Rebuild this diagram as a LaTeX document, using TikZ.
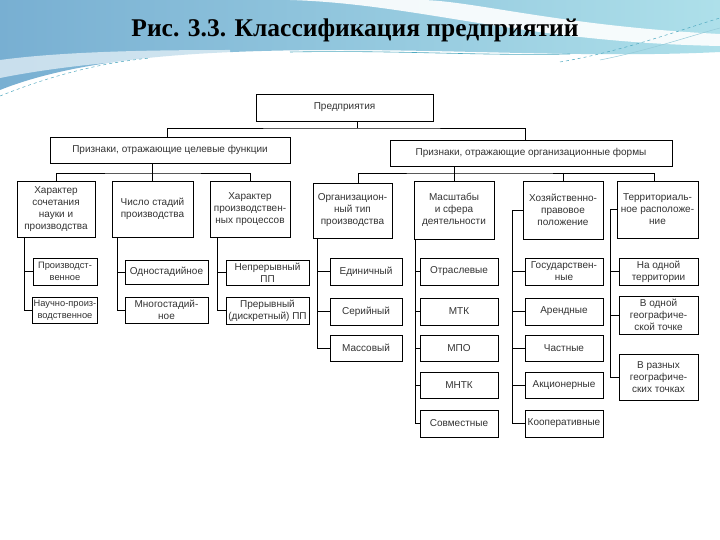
\documentclass[tikz,border=0pt]{standalone}
\usepackage{fontspec}
\setmainfont{Liberation Sans}
\newfontfamily\titlefont{Liberation Serif}
\definecolor{bgL}{HTML}{78AFD2}
\definecolor{bgM}{HTML}{95CDE0}
\definecolor{bgR}{HTML}{AEE0EA}
\definecolor{streak}{HTML}{4FA9C0}
\tikzset{
  box/.style={draw=black, line width=0.7pt, fill=white, align=center,
    font=\fontsize{10}{12}\selectfont, text=black!80, inner sep=1pt},
  smallbox/.style={box, font=\fontsize{9.3}{11.5}\selectfont},
  conn/.style={draw=black, line width=0.7pt}
}
\begin{document}
\begin{tikzpicture}[x=1pt,y=-1pt]
\useasboundingbox (0,0) rectangle (720,540);
\fill[white] (0,0) rectangle (720,540);
% header decoration
\shade[left color=bgL, right color=bgR]
  (0,0) -- (720,0) -- (720,52) .. controls (600,58) and (470,50) .. (340,50)
  .. controls (200,50) and (80,58) .. (0,90) -- cycle;
\fill[white, opacity=0.9]
  (290,0) .. controls (420,4) and (520,42) .. (720,46) -- (720,34)
  .. controls (560,26) and (470,0) .. (420,0) -- cycle;
\fill[white, opacity=0.6]
  (0,60) .. controls (60,52) and (140,50) .. (230,50) -- (230,56)
  .. controls (140,58) and (60,66) .. (0,78) -- cycle;
\draw[streak, line width=0.6pt] (290,52) .. controls (400,50) and (480,56) .. (570,54);
\draw[streak, line width=0.5pt, dashed] (0,96) .. controls (40,80) and (90,64) .. (150,58);
\draw[streak, line width=0.5pt, dashed] (560,62) .. controls (620,52) and (680,30) .. (720,18);
\draw[streak!60, line width=0.5pt] (600,60) .. controls (650,50) and (690,36) .. (720,28);
\node[font=\titlefont\bfseries\fontsize{25.5}{28}\selectfont, text=black] (title) at (355,30) {Рис. 3.3. Классификация предприятий};

% level 1, 2
\node[box, minimum width=177pt, minimum height=27pt] (top) at (344.5,107.5) {Предприятия};
\node[box, minimum width=240pt, minimum height=26pt] (L) at (170,150) {Признаки, отражающие целевые функции};
\node[box, minimum width=282pt, minimum height=26pt] (R) at (531,153) {Признаки, отражающие организационные формы};

% level 3 left
\node[box, minimum width=78pt, minimum height=56pt] (A1) at (56,209) {Характер\\сочетания\\науки и\\производства};
\node[box, minimum width=81pt, minimum height=56pt] (A2) at (152.5,209) {Число стадий\\производства};
\node[box, minimum width=80pt, minimum height=56pt] (A3) at (250,209) {Характер\\производствен-\\ных процессов};
% level 3 right
\node[box, minimum width=79pt, minimum height=55pt] (B1) at (352.5,210.5) {Организацион-\\ный тип\\производства};
\node[box, minimum width=80pt, minimum height=58pt] (B2) at (454,210) {Масштабы\\и сфера\\деятельности};
\node[box, minimum width=80pt, minimum height=58pt] (B3) at (563,210) {Хозяйственно-\\правовое\\положение};
\node[box, minimum width=81pt, minimum height=57pt] (B4) at (657.5,209.5) {Территориаль-\\ное расположе-\\ние};

% level 4 left
\node[smallbox, minimum width=64pt, minimum height=27pt] (C11) at (65,271.5) {Производст-\\венное};
\node[smallbox, minimum width=64pt, minimum height=26pt] (C12) at (65,310) {Научно-произ-\\водственное};
\node[box, minimum width=83pt, minimum height=24pt] (C21) at (166.5,272) {Одностадийное};
\node[box, minimum width=83pt, minimum height=26pt] (C22) at (166.5,310) {Многостадий-\\ное};
\node[box, minimum width=83pt, minimum height=25pt] (C31) at (267.5,272.5) {Непрерывный\\ПП};
\node[box, minimum width=83pt, minimum height=27pt] (C32) at (267.5,310.5) {Прерывный\\(дискретный) ПП};

% level 4 right
\node[box, minimum width=72pt, minimum height=27pt] (D11) at (366,271.5) {Единичный};
\node[box, minimum width=72pt, minimum height=27pt] (D12) at (366,311.5) {Серийный};
\node[box, minimum width=72pt, minimum height=26pt] (D13) at (366,348) {Массовый};

\node[box, minimum width=78pt, minimum height=27pt] (D21) at (459,271.5) {Отраслевые};
\node[box, minimum width=78pt, minimum height=27pt] (D22) at (459,311.5) {МТК};
\node[box, minimum width=78pt, minimum height=26pt] (D23) at (459,348) {МПО};
\node[box, minimum width=78pt, minimum height=26pt] (D24) at (459,385) {МНТК};
\node[box, minimum width=78pt, minimum height=27pt] (D25) at (459,423.5) {Совместные};

\node[box, minimum width=78pt, minimum height=27pt] (D31) at (564,271.5) {Государствен-\\ные};
\node[box, minimum width=78pt, minimum height=27pt] (D32) at (564,311.5) {Арендные};
\node[box, minimum width=78pt, minimum height=26pt] (D33) at (564,348) {Частные};
\node[box, minimum width=78pt, minimum height=26pt] (D34) at (564,385) {Акционерные};
\node[box, minimum width=78pt, minimum height=27pt] (D35) at (564,423.5) {Кооперативные};

\node[box, minimum width=79pt, minimum height=27pt] (D41) at (658.5,271.5) {На одной\\территории};
\node[box, minimum width=79pt, minimum height=38pt] (D42) at (658.5,315) {В одной\\географиче-\\ской точке};
\node[box, minimum width=79pt, minimum height=46pt] (D43) at (658.5,377) {В разных\\географиче-\\ских точках};

% connectors level 1-2
\coordinate (jt) at (357,128);
\draw[conn] (jt |- top.south) -- (jt);
\draw[conn] ([xshift=-3pt]L.north) |- (jt) -| ([xshift=-6pt]R.north);
% left group
\coordinate (jl) at (152.5,173);
\draw[conn] (L.south -| jl) -- (jl);
\draw[conn] (A1.north) |- (jl) -| (A3.north);
\draw[conn] (jl) -- (A2.north);
% right group
\coordinate (jr) at (454,173);
\draw[conn] (R.south -| jr) -- (jr);
\draw[conn] ([xshift=5.5pt]B1.north) |- (jr) -| ([xshift=-3.5pt]B4.north);
\draw[conn] (jr) -- (B2.north);
\draw[conn] (jr -| B3.north) -- (B3.north);

% left children
\coordinate (a1d) at ([xshift=8pt]A1.south west);
\draw[conn] (a1d) |- (C12.west);
\draw[conn] (a1d |- C11.west) -- (C11.west);
\coordinate (a2d) at ([xshift=6pt]A2.south west);
\draw[conn] (a2d) |- (C22.west);
\draw[conn] (a2d |- C21.west) -- (C21.west);
\coordinate (a3d) at ([xshift=8pt]A3.south west);
\draw[conn] (a3d) |- (C32.west);
\draw[conn] (a3d |- C31.west) -- (C31.west);

% right children
\coordinate (b1d) at ([xshift=5pt]B1.south west);
\draw[conn] (b1d) |- (D13.west);
\draw[conn] (b1d |- D11.west) -- (D11.west);
\draw[conn] (b1d |- D12.west) -- (D12.west);

\coordinate (b2d) at ([xshift=2pt]B2.south west);
\draw[conn] (b2d) |- (D25.west);
\foreach \n in {D21,D22,D23,D24} \draw[conn] (b2d |- \n.west) -- (\n.west);

\coordinate (b3d) at ([xshift=-10pt]B3.west);
\draw[conn] (B3.west) -- (b3d) |- (D35.west);
\foreach \n in {D31,D32,D33,D34} \draw[conn] (b3d |- \n.west) -- (\n.west);

\coordinate (b4d) at ([xshift=-6pt]B4.west);
\draw[conn] (B4.west) -- (b4d) |- (D43.west);
\foreach \n in {D41,D42} \draw[conn] (b4d |- \n.west) -- (\n.west);
\end{tikzpicture}
\end{document}
